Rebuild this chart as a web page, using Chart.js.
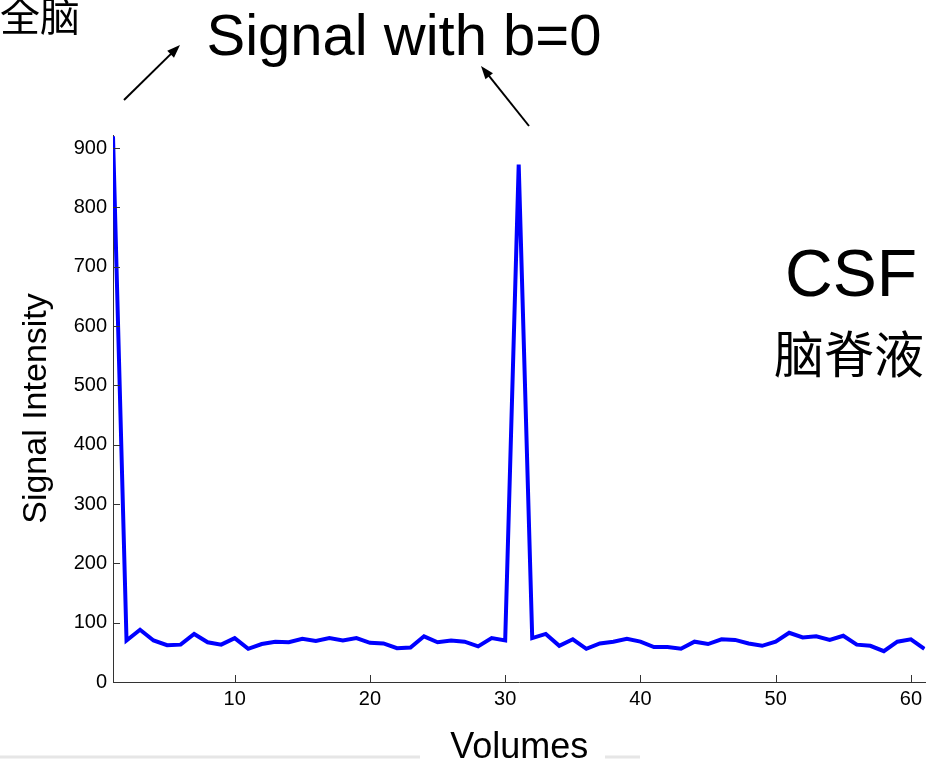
<!DOCTYPE html>
<html lang="en">
<head>
<meta charset="UTF-8">
<title>Signal with b=0</title>
<script src="https://cdn.jsdelivr.net/npm/chart.js"></script>
<style>
  body { margin: 0; background: #fff; overflow: hidden; }
  #chart-container { width: 927px; height: 763px; position: relative; }
</style>
</head>
<body>
<div id="chart-container"><canvas id="signalChart"></canvas></div>
<script>
// volume index (x) and signal intensity
const volumes = [1, 2, 3, 4, 5, 6, 7, 8, 9, 10, 11, 12, 13, 14, 15, 16, 17, 18, 19, 20,
  21, 22, 23, 24, 25, 26, 27, 28, 29, 30, 31, 32, 33, 34, 35, 36, 37, 38, 39, 40,
  41, 42, 43, 44, 45, 46, 47, 48, 49, 50, 51, 52, 53, 54, 55, 56, 57, 58, 59, 60, 61];
const signal = [920, 70, 88, 70, 62, 63, 81, 67, 63, 74, 56, 64, 68, 67, 73, 69, 74, 70, 74, 66,
  65, 57, 58, 77, 67, 70, 68, 60, 74, 70, 872, 74, 81, 61, 72, 56, 65, 68, 73, 68,
  59, 59, 56, 68, 64, 72, 71, 65, 61, 68, 83, 75, 77, 71, 78, 63, 61, 52, 68, 72, 56];
const xTicks = [10, 20, 30, 40, 50, 60];
const yTicks = [0, 100, 200, 300, 400, 500, 600, 700, 800, 900];

const FONT = '"Liberation Sans", Arial, Helvetica, sans-serif';
const CJK = '"Noto Sans CJK SC", sans-serif';
Chart.defaults.font.family = FONT;
Chart.defaults.color = '#000';

// MATLAB-style tick marks pointing into the plot
const inwardTicks = {
    id: 'inwardTicks',
    afterDatasetsDraw(chart) {
        const { ctx, scales: { x, y } } = chart;
        ctx.save();
        ctx.strokeStyle = '#333';
        ctx.lineWidth = 1;
        x.ticks.forEach(t => {
            const px = Math.round(x.getPixelForValue(t.value)) + 0.5;
            ctx.beginPath();
            ctx.moveTo(px, x.top);
            ctx.lineTo(px, x.top - 7);
            ctx.stroke();
        });
        y.ticks.forEach(t => {
            const py = Math.round(y.getPixelForValue(t.value)) + 0.5;
            ctx.beginPath();
            ctx.moveTo(y.right, py);
            ctx.lineTo(y.right + 7, py);
            ctx.stroke();
        });
        ctx.restore();
    }
};

function arrow(ctx, x1, y1, x2, y2) {
    const a = Math.atan2(y2 - y1, x2 - x1);
    ctx.beginPath();
    ctx.moveTo(x1, y1);
    ctx.lineTo(x2 - 8 * Math.cos(a), y2 - 8 * Math.sin(a));
    ctx.stroke();
    ctx.beginPath();
    ctx.moveTo(x2, y2);
    ctx.lineTo(x2 - 14 * Math.cos(a - 0.35), y2 - 14 * Math.sin(a - 0.35));
    ctx.lineTo(x2 - 14 * Math.cos(a + 0.35), y2 - 14 * Math.sin(a + 0.35));
    ctx.closePath();
    ctx.fill();
}

// slide annotations around the plot
const annotations = {
    id: 'annotations',
    afterDraw(chart) {
        const ctx = chart.ctx;
        ctx.save();
        ctx.fillStyle = '#000';
        ctx.textBaseline = 'middle';
        ctx.textAlign = 'center';
        ctx.font = '58px ' + FONT;
        ctx.fillText('Signal with b=0', 404, 39);
        ctx.font = '66px ' + FONT;
        ctx.fillText('CSF', 851, 278);
        ctx.font = '50px ' + CJK;
        ctx.fillText('脑脊液', 849, 354);
        ctx.textAlign = 'left';
        ctx.font = '40px ' + CJK;
        ctx.fillText('全脑', 0, 16);

        ctx.strokeStyle = '#000';
        ctx.lineWidth = 2;
        arrow(ctx, 124, 100, 180, 45);
        arrow(ctx, 529, 126, 481, 66);

        ctx.strokeStyle = '#e6e6e6';
        ctx.lineWidth = 3;
        ctx.beginPath();
        ctx.moveTo(0, 757); ctx.lineTo(420, 757);
        ctx.moveTo(605, 757); ctx.lineTo(640, 757);
        ctx.stroke();
        ctx.restore();
    }
};

const ctx = document.getElementById('signalChart').getContext('2d');
new Chart(ctx, {
    type: 'line',
    data: {
        datasets: [{
            label: 'Signal',
            data: volumes.map((v, i) => ({ x: v, y: signal[i] })),
            borderColor: '#0000ff',
            borderWidth: 4,
            pointRadius: 0,
            tension: 0,
            fill: false
        }]
    },
    options: {
        responsive: true,
        maintainAspectRatio: false,
        animation: false,
        devicePixelRatio: 1,
        layout: { padding: { top: 135, left: 0, right: 0, bottom: 0 } },
        plugins: {
            legend: { display: false },
            tooltip: { enabled: false }
        },
        scales: {
            x: {
                type: 'linear',
                min: 1,
                max: 61.07,
                afterFit: s => { s.height = 81; },
                afterBuildTicks: s => { s.ticks = xTicks.map(v => ({ value: v })); },
                grid: { display: false, drawTicks: false },
                border: { display: true, color: '#333', width: 1 },
                ticks: { font: { size: 20 }, padding: 5, maxRotation: 0, autoSkip: false },
                title: {
                    display: true,
                    text: 'Volumes',
                    font: { size: 36, lineHeight: 1 },
                    padding: { top: 0, bottom: -3 }
                }
            },
            y: {
                min: 0,
                max: 922,
                afterFit: s => { s.width = 113; },
                afterBuildTicks: s => { s.ticks = yTicks.map(v => ({ value: v })); },
                grid: { display: false, drawTicks: false },
                border: { display: true, color: '#333', width: 1 },
                ticks: { font: { size: 20 }, padding: 6, autoSkip: false },
                title: {
                    display: true,
                    text: 'Signal Intensity',
                    font: { size: 34, lineHeight: 1 },
                    padding: { top: 20, bottom: 0 }
                }
            }
        }
    },
    plugins: [inwardTicks, annotations]
});
</script>
</body>
</html>
